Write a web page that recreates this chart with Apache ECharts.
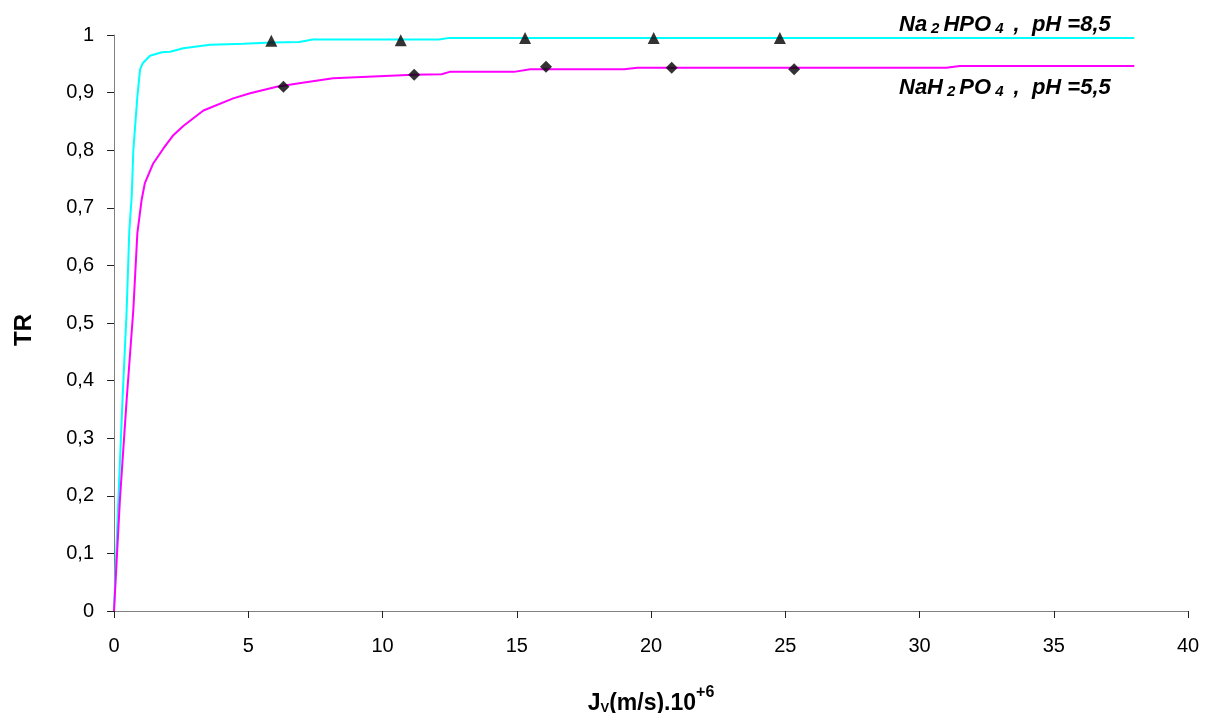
<!DOCTYPE html>
<html>
<head>
<meta charset="utf-8">
<script src="https://cdn.jsdelivr.net/npm/echarts@6/dist/echarts.min.js"></script>
<style>
  html, body { margin: 0; padding: 0; background: #fff; }
  #chart { width: 1215px; height: 713px; }
</style>
</head>
<body>
<div id="chart"></div>
<script>
// Retention (TR) versus permeate flux Jv for two phosphate salts
const xTicks = [0, 5, 10, 15, 20, 25, 30, 35, 40];
const yTicks = [0, 0.1, 0.2, 0.3, 0.4, 0.5, 0.6, 0.7, 0.8, 0.9, 1];

// Na2HPO4, pH 8.5 : fitted curve [Jv, TR]
const na2hpo4Curve = [
  [0, 0], [0.16, 0.19], [0.32, 0.37], [0.47, 0.52], [0.57, 0.66], [0.66, 0.72],
  [0.72, 0.80], [0.87, 0.893], [0.97, 0.94], [1.07, 0.951], [1.34, 0.964],
  [1.78, 0.970], [2.09, 0.971], [2.58, 0.977], [3.58, 0.983], [4.82, 0.985],
  [5.87, 0.987], [6.9, 0.988], [7.4, 0.992], [12.1, 0.992], [12.5, 0.995], [38, 0.995]
];
// Na2HPO4, pH 8.5 : measured points
const na2hpo4Points = [[5.86, 0.990], [10.68, 0.991], [15.31, 0.995], [20.1, 0.995], [24.8, 0.995]];

// NaH2PO4, pH 5.5 : fitted curve [Jv, TR]
const nah2po4Curve = [
  [0, 0], [0.22, 0.193], [0.47, 0.366], [0.72, 0.523], [0.87, 0.656], [1.03, 0.714],
  [1.15, 0.743], [1.46, 0.777], [1.84, 0.803], [2.21, 0.826], [2.58, 0.842],
  [3.33, 0.869], [4.44, 0.890], [5.07, 0.899], [6.06, 0.910], [7.02, 0.917],
  [8.16, 0.925], [11.14, 0.931], [12.2, 0.932], [12.5, 0.936], [14.9, 0.936],
  [15.5, 0.9405], [19.0, 0.9405], [19.5, 0.943], [31.0, 0.943], [31.5, 0.946], [38, 0.946]
];
// NaH2PO4, pH 5.5 : measured points
const nah2po4Points = [[6.31, 0.910], [11.18, 0.931], [16.09, 0.945], [20.77, 0.943], [25.33, 0.9405]];

const FONT = '"Liberation Sans", Arial, sans-serif';
const fmtComma = v => String(Math.round(v * 10) / 10).replace('.', ',');

const chart = echarts.init(document.getElementById('chart'), null, { renderer: 'canvas' });

const labelRich = {
  a: { fontFamily: FONT, fontSize: 22, fontWeight: 'bold', fontStyle: 'italic', color: '#000', lineHeight: 26, verticalAlign: 'bottom' },
  s: { fontFamily: FONT, fontSize: 15, fontWeight: 'bold', fontStyle: 'italic', color: '#000', lineHeight: 12, verticalAlign: 'bottom', padding: [0, 4, 0, 4] }
};

chart.setOption({
  animation: false,
  backgroundColor: '#fff',
  grid: { left: 114, right: 27, top: 35, bottom: 102, containLabel: false, outerBoundsMode: 'none' },
  xAxis: {
    type: 'value',
    min: xTicks[0], max: xTicks[xTicks.length - 1], interval: 5,
    splitLine: { show: false },
    axisLine: { show: true, onZero: false, lineStyle: { color: '#808080', width: 1 } },
    axisTick: { show: true, length: 7, lineStyle: { color: '#222' } },
    axisLabel: { margin: 25, fontFamily: FONT, fontSize: 20, color: '#000' },
    name: '{b|J}{v|V}{b|(m/s).10}{p|+6}',
    nameLocation: 'middle',
    nameGap: 74,
    nameTextStyle: {
      rich: {
        b: { fontFamily: FONT, fontSize: 23, fontWeight: 'bold', color: '#000', lineHeight: 30, verticalAlign: 'bottom' },
        v: { fontFamily: FONT, fontSize: 13, fontWeight: 'bold', color: '#000', lineHeight: 22, verticalAlign: 'bottom' },
        p: { fontFamily: FONT, fontSize: 16, fontWeight: 'bold', color: '#000', lineHeight: 17, verticalAlign: 'top' }
      }
    }
  },
  yAxis: {
    type: 'value',
    min: yTicks[0], max: yTicks[yTicks.length - 1], interval: 0.1,
    splitLine: { show: false },
    axisLine: { show: true, lineStyle: { color: '#808080', width: 1 } },
    axisTick: { show: true, length: 7, lineStyle: { color: '#222' } },
    axisLabel: { margin: 20, fontFamily: FONT, fontSize: 20, color: '#000', formatter: fmtComma },
    name: 'TR',
    nameLocation: 'middle',
    nameRotate: 90,
    nameGap: 78,
    nameTextStyle: { fontFamily: FONT, fontSize: 24, fontWeight: 'bold', color: '#000', padding: [0, 14, 0, 0] }
  },
  series: [
    {
      name: 'Na2HPO4 curve', type: 'line', data: na2hpo4Curve, showSymbol: false, symbol: 'none',
      lineStyle: { color: '#00FFFF', width: 2 }, z: 2
    },
    {
      name: 'NaH2PO4 curve', type: 'line', data: nah2po4Curve, showSymbol: false, symbol: 'none',
      lineStyle: { color: '#FF00FF', width: 2 }, z: 2
    },
    {
      name: 'Na2HPO4 points', type: 'scatter', data: na2hpo4Points, symbol: 'triangle', symbolSize: [12, 12],
      itemStyle: { color: '#000' }, z: 3
    },
    {
      name: 'NaH2PO4 points', type: 'scatter', data: nah2po4Points, symbol: 'diamond', symbolSize: [12, 12],
      itemStyle: { color: '#000' }, z: 3
    }
  ],
  graphic: [
    {
      type: 'text', left: 899, top: 14, z: 10,
      style: { text: '{a|Na}{s|2}{a|HPO}{s|4}{a| ,  pH =8,5}', rich: labelRich }
    },
    {
      type: 'text', left: 899, top: 77, z: 10,
      style: { text: '{a|NaH}{s|2}{a|PO}{s|4}{a| ,  pH =5,5}', rich: labelRich }
    }
  ]
});
</script>
</body>
</html>
